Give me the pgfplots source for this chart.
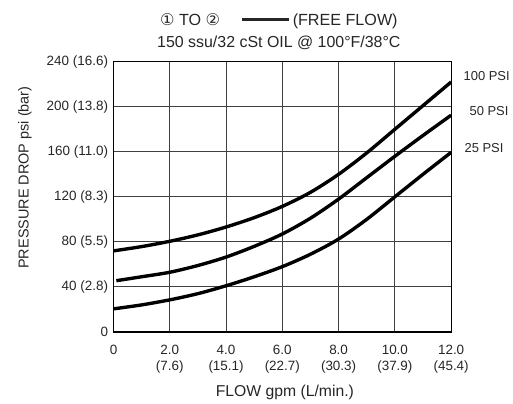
\documentclass[border=0pt]{standalone}
\usepackage{fontspec}
\setmainfont{Liberation Sans}
\newfontfamily\sym{DejaVu Sans}
\usepackage{pgfplots}
\pgfplotsset{compat=1.18}

\begin{document}
\begin{tikzpicture}
\begin{axis}[
  scale only axis,
  width=339pt, height=271.3pt,
  xmin=0, xmax=12, ymin=0, ymax=240,
  xtick={0,2,4,6,8,10,12},
  ytick={0,40,80,120,160,200,240},
  xticklabels={0, 2.0\\(7.6), 4.0\\(15.1), 6.0\\(22.7), 8.0\\(30.3), 10.0\\(37.9), 12.0\\(45.4)},
  yticklabels={0, 40 (2.8), 80 (5.5), 120 (8.3), 160 (11.0), 200 (13.8), 240 (16.6)},
  xticklabel style={align=center, font=\fontsize{13.5}{16}\selectfont, color=black!85, yshift=-10pt},
  yticklabel style={font=\fontsize{13.5}{16}\selectfont, color=black!85, xshift=-2pt},
  major tick length=0pt,
  grid=major,
  grid style={draw=black!75, line width=1.1pt},
  axis line style={line width=1.2pt},
]
% 100 PSI
\addplot[black, line width=3.4pt, smooth] coordinates {
(0,72) (1,75.8) (2,80.5) (3,86.2) (4,93.2) (5,101.5) (6,111.5) (7,124)
(8,140) (9,159) (10,180) (11,201) (12,222)
};
% 50 PSI
\addplot[black, line width=3.4pt, smooth] coordinates {
(0.1,45.5) (1,49) (2,53) (3,59) (4,66.5) (5,76) (6,87) (7,101)
(8,118) (9,137) (10,156) (11,174.5) (12,192.5)
};
% 25 PSI
\addplot[black, line width=3.4pt, smooth] coordinates {
(0,20.5) (1,24) (2,28.5) (3,34) (4,41) (5,49) (6,58) (7,69)
(8,82.5) (9,100) (10,120) (11,140) (12,159.5)
};
\end{axis}

% titles and labels (pt from lower-left corner of the axis box)
\node[font=\fontsize{16.2}{19}\selectfont, color=black!85] at (166pt,312pt)
  {{\sym ①} TO {\sym ②}\hspace{22pt}\rule[0.28em]{47pt}{3pt}\hspace{4pt}(FREE FLOW)};
\node[font=\fontsize{16}{19}\selectfont, color=black!85] at (166pt,290pt)
  {150 ssu/32 cSt OIL @ 100°F/38°C};
\node[font=\fontsize{14.5}{17}\selectfont, color=black!85, rotate=90] at (-89pt,155pt)
  {PRESSURE DROP psi (bar)};
\node[font=\fontsize{15.8}{18}\selectfont, color=black!85] at (172pt,-61pt)
  {FLOW gpm (L/min.)};
\node[font=\fontsize{13}{15}\selectfont, color=black!85, anchor=west] at (348pt,256.6pt) {100 PSI};
\node[font=\fontsize{13}{15}\selectfont, color=black!85, anchor=west] at (354pt,221.6pt) {50 PSI};
\node[font=\fontsize{13}{15}\selectfont, color=black!85, anchor=west] at (349pt,185pt) {25 PSI};

\path (-114pt,-69.7pt) rectangle (399pt,333.3pt);
\end{tikzpicture}
\end{document}
